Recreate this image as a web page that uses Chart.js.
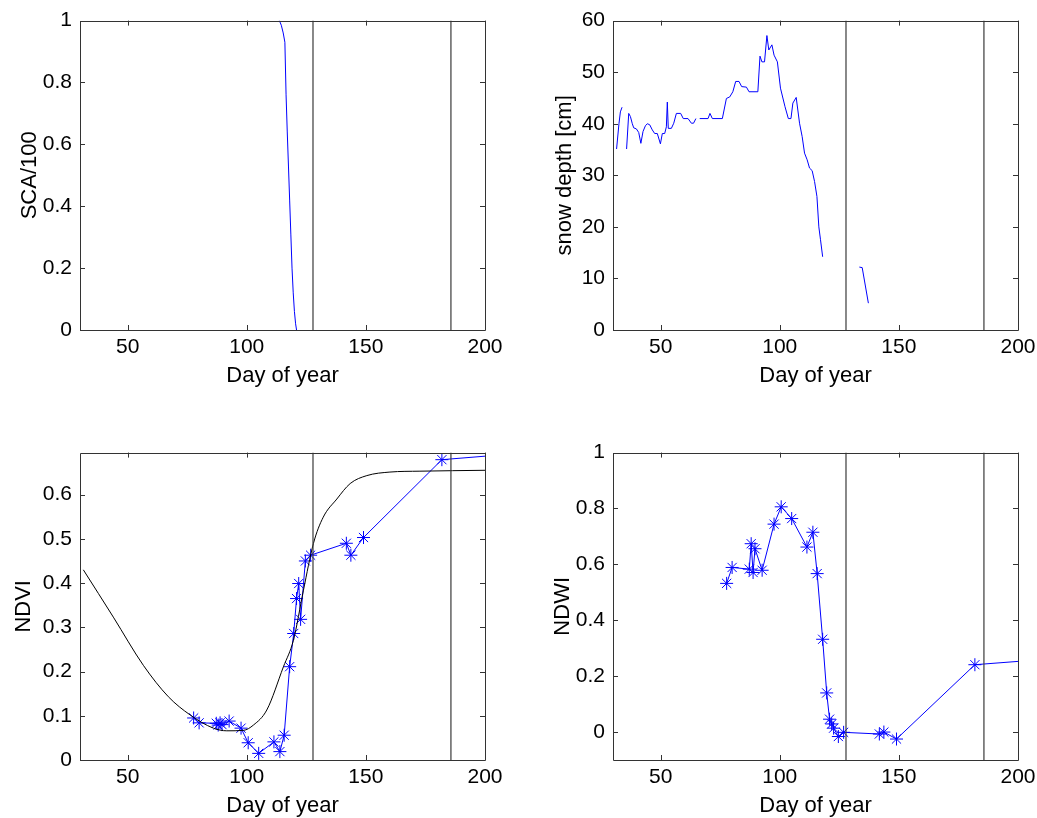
<!DOCTYPE html>
<html>
<head>
<meta charset="utf-8">
<script src="https://cdn.jsdelivr.net/npm/chart.js@4/dist/chart.umd.min.js"></script>
<style>
  html, body { margin: 0; padding: 0; background: #fff; overflow: hidden; width: 1037px; height: 818px; }
  canvas { position: absolute; }
</style>
</head>
<body>
<canvas id="c-sca"  width="515" height="390" style="left:0px;top:0px"></canvas>
<canvas id="c-snow" width="515" height="390" style="left:533px;top:0px"></canvas>
<canvas id="c-ndvi" width="515" height="388" style="left:0px;top:432px"></canvas>
<canvas id="c-ndwi" width="515" height="388" style="left:533px;top:432px"></canvas>
<script>
// ── data ──────────────────────────────────────────────────────────────────────
const xTicks     = [50, 100, 150, 200]
const markerDays = [127.8, 185.7]          // the two vertical reference lines

const scaDays   = [113.7, 114.5, 115.3, 116, 116.5, 117, 117.5, 118, 118.5, 119, 119.5, 120, 120.5, 120.9]
const scaValues = [1.0, 0.985, 0.96, 0.93, 0.76, 0.64, 0.53, 0.42, 0.31, 0.20, 0.12, 0.06, 0.02, 0]
const scaTicks  = [0, 0.2, 0.4, 0.6, 0.8, 1]

// null = gap in the record
const snowDays  = [31.5, 32.5, 33.1, 33.8, 34.8,
  35.7, 36.6, 37.3, 38.1, 38.7, 39.8, 40.8, 41.7, 42.6, 43.6, 44.4, 45.4, 46.5, 47.5, 48.6, 49.9,
  50.7, 51.7, 52.4, 52.8, 53.2, 54.5, 55.5, 56.6, 58.4, 59.5, 61.5, 62.9, 63.8, 64.8, 65.6,
  66.4, 69.9, 70.7, 71.7, 75.9, 77.6, 79, 80.3, 81.5, 82.9, 84, 86, 87.1, 90.8, 91.7, 92.5, 93.6,
  94.6, 95.4, 96.7, 97.6, 99, 100.3, 102.2, 103.6, 104.7, 105.5, 106.9, 108.3, 109.4, 110.4,
  111.5, 112.5, 113.6, 114.6, 115.6, 116.4, 117.1, 118, 118.8,
  119.5, 119.8, 126,
  133.4, 134.6, 137.2]
const snowDepth = [35.1, 40, 42.3, 43.2, null,
  35.1, 42, 41.4, 40, 39.2, 39, 38.3, 36.2, 38.5, 39.6, 40, 39.8, 38.8, 38.1, 38.1, 36.1,
  38.1, 38.1, 39.4, 44.2, 39.1, 39.1, 40.1, 42, 42, 41, 41, 40.1, 40.1, 41, null,
  41, 41, 42, 41, 41, 44.9, 45.2, 46.2, 48.2, 48.2, 47.2, 47.1, 46.2, 46.2, 53.1, 52, 52,
  57.1, 54.3, 55.3, 53.3, 52, 46.9, 43.3, 41, 41, 44, 45.1, 40.1, 37.5, 34.3,
  33, 31.4, 30.9, 28.8, 25.9, 20, 17.5, 14.2, null,
  7, 7, null,
  12.2, 12.1, 5.2]
const snowTicks = [0, 10, 20, 30, 40, 50, 60]

const ndviFitDays = [31.4, 44, 56.6, 67.1, 76.2, 86, 91.6, 98.6, 102.8, 108.4, 115.4, 119.6,
  123.8, 128, 132.1, 137.8, 143.4, 150.4, 160.1, 172.7, 200]
const ndviFit     = [0.430, 0.323, 0.214, 0.143, 0.102, 0.072, 0.066, 0.067, 0.079, 0.113, 0.211, 0.271,
  0.384, 0.49, 0.549, 0.590, 0.625, 0.643, 0.651, 0.653, 0.655]

// satellite acquisition days (last one lies past the axis end)
const obsDays = [77.7, 80, 87.2, 88, 88.8, 89.6, 92.6, 97.6, 100.6, 105, 111.4, 113.9, 115.7, 118,
  119.7, 120.9, 121.8, 122.6, 124.6, 126.8, 141.8, 143.7, 149, 181.9, 214]
const ndviObs = [0.095, 0.084, 0.083, 0.079, 0.084, 0.080, 0.088, 0.072, 0.039, 0.015, 0.041, 0.019, 0.056,
  0.211, 0.286, 0.365, 0.399, 0.318, 0.450, 0.463, 0.490, 0.463, 0.503, 0.679, 0.693]
const ndwiObs = [0.532, 0.589, 0.583, 0.674, 0.571, 0.656, 0.579, 0.744, 0.806, 0.764, 0.662, 0.715, 0.567,
  0.332, 0.140, 0.046, 0.029, 0.014, -0.016, -0.001, -0.007, 0.000, -0.025, 0.241, 0.262]
const ndviTicks = [0, 0.1, 0.2, 0.3, 0.4, 0.5, 0.6]
const ndwiTicks = [0, 0.2, 0.4, 0.6, 0.8, 1]

// ── style ─────────────────────────────────────────────────────────────────────
Chart.defaults.font.family = '"Liberation Sans", Arial, sans-serif'
Chart.defaults.color       = '#000'
Chart.defaults.animation   = false
Chart.defaults.plugins.legend.display  = false
Chart.defaults.plugins.tooltip.enabled = false

const BLUE = '#0000ff'

// matlab-ish box: frame plus inward ticks on all four sides
Chart.register({
  id: 'boxTicks',
  afterDatasetsDraw(chart) {
    const { ctx, chartArea: a, scales: { x, y } } = chart
    const len = 5
    ctx.save()
    ctx.strokeStyle = '#333'
    ctx.lineWidth   = 1
    ctx.beginPath()
    ctx.rect(Math.round(a.left) + 0.5, Math.round(a.top) + 0.5,
             Math.round(a.right - a.left), Math.round(a.bottom - a.top))
    for (const t of x.ticks) {
      const px = Math.round(x.getPixelForValue(t.value)) + 0.5
      ctx.moveTo(px, a.bottom); ctx.lineTo(px, a.bottom - len)
      ctx.moveTo(px, a.top);    ctx.lineTo(px, a.top + len)
    }
    for (const t of y.ticks) {
      const py = Math.round(y.getPixelForValue(t.value)) + 0.5
      ctx.moveTo(a.left, py);  ctx.lineTo(a.left + len, py)
      ctx.moveTo(a.right, py); ctx.lineTo(a.right - len, py)
    }
    ctx.stroke()
    ctx.restore()
  }
})

const pts = (xs, ys) => xs.map((x, i) => ({ x, y: ys[i] }))

function vLines(yMin, yMax) {
  return markerDays.map(d => ({
    data: [{ x: d, y: yMin }, { x: d, y: yMax }],
    borderColor: '#3a3a3a', borderWidth: 1.2, pointRadius: 0,
  }))
}

function panel(id, { yMin, yMax, yTicks, yTitle, titlePad, datasets }) {
  new Chart(document.getElementById(id), {
    type: 'line',
    data: { datasets: [...vLines(yMin, yMax), ...datasets] },
    options: {
      responsive: false,
      layout: { padding: { left: 0, top: 20, right: 30, bottom: 0 } },
      elements: { line: { tension: 0 } },
      scales: {
        x: {
          type: 'linear', min: 30, max: 200,
          afterBuildTicks: s => { s.ticks = xTicks.map(v => ({ value: v })) },
          afterFit: s => { s.height = 60 },
          grid: { display: false, drawTicks: false }, border: { display: false },
          ticks: { padding: 5, font: { size: 21 }, maxRotation: 0, autoSkip: false, callback: v => String(v) },
          title: { display: true, text: 'Day of year', font: { size: 22 }, padding: { top: 0, bottom: 1 } },
        },
        y: {
          type: 'linear', min: yMin, max: yMax,
          afterBuildTicks: s => { s.ticks = yTicks.map(v => ({ value: v })) },
          afterFit: s => { s.width = 80 },
          grid: { display: false, drawTicks: false }, border: { display: false },
          ticks: { padding: 8, font: { size: 21 }, autoSkip: false, callback: v => String(v) },
          title: { display: true, text: yTitle, font: { size: 22 }, padding: { top: titlePad, bottom: 0 } },
        },
      },
    },
  })
}

panel('c-sca', {
  yMin: 0, yMax: 1, yTicks: scaTicks, yTitle: 'SCA/100', titlePad: 17,
  datasets: [{ data: pts(scaDays, scaValues), borderColor: BLUE, borderWidth: 1, pointRadius: 0 }],
})

panel('c-snow', {
  yMin: 0, yMax: 60, yTicks: snowTicks, yTitle: 'snow depth [cm]', titlePad: 19,
  datasets: [{ data: pts(snowDays, snowDepth), borderColor: BLUE, borderWidth: 1, pointRadius: 0, spanGaps: false }],
})

const starStyle = {
  borderColor: BLUE, borderWidth: 1,
  pointStyle: 'star', pointRadius: 6.5, pointBorderWidth: 1,
  pointBorderColor: BLUE, pointBackgroundColor: BLUE,
}

panel('c-ndvi', {
  yMin: 0, yMax: 0.695, yTicks: ndviTicks, yTitle: 'NDVI', titlePad: 11,
  datasets: [
    { data: pts(ndviFitDays, ndviFit), borderColor: '#000', borderWidth: 1, pointRadius: 0,
      cubicInterpolationMode: 'monotone' },
    { data: pts(obsDays, ndviObs), ...starStyle },
  ],
})

panel('c-ndwi', {
  yMin: -0.1, yMax: 1, yTicks: ndwiTicks, yTitle: 'NDWI', titlePad: 17,
  datasets: [{ data: pts(obsDays, ndwiObs), ...starStyle }],
})
</script>
</body>
</html>
